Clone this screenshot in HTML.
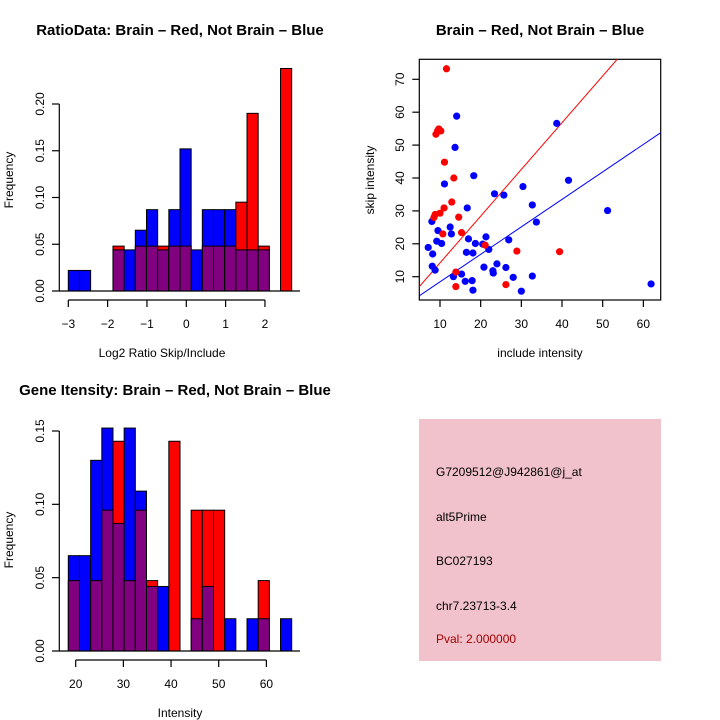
<!DOCTYPE html>
<html><head><meta charset="utf-8"><style>
body{margin:0;background:#fff;}
svg{display:block;font-family:"Liberation Sans",sans-serif;}
</style></head><body>
<svg id="c" width="720" height="720" xmlns="http://www.w3.org/2000/svg">
<text x="180" y="35" font-size="15" font-weight="bold" text-anchor="middle">RatioData: Brain – Red, Not Brain – Blue</text>
<text x="540" y="35" font-size="15" font-weight="bold" text-anchor="middle">Brain – Red, Not Brain – Blue</text>
<text x="175" y="395" font-size="15" font-weight="bold" text-anchor="middle">Gene Itensity: Brain – Red, Not Brain – Blue</text>
<text x="162" y="357" font-size="12" text-anchor="middle">Log2 Ratio Skip/Include</text>
<text transform="translate(13,180) rotate(-90)" font-size="12" text-anchor="middle">Frequency</text>
<text x="540" y="357" font-size="12" text-anchor="middle">include intensity</text>
<text transform="translate(374,180) rotate(-90)" font-size="12" text-anchor="middle">skip intensity</text>
<text x="180" y="717" font-size="12" text-anchor="middle">Intensity</text>
<text transform="translate(13,540) rotate(-90)" font-size="12" text-anchor="middle">Frequency</text>
<g>
<rect x="419" y="419" width="242" height="242" fill="#f1c2cc"/>
<text x="436" y="476" font-size="12">G7209512@J942861@j_at</text>
<text x="436" y="521" font-size="12">alt5Prime</text>
<text x="436" y="565" font-size="12">BC027193</text>
<text x="436" y="610" font-size="12">chr7.23713-3.4</text>
<text x="436" y="643" font-size="12" fill="#a00000">Pval: 2.000000</text>
</g>
</svg>
<script>
// Ratio histogram data (20 bins)
const ratioBinStart = -3.0;
const ratioBinWidth = 0.284;
const ratioBlue = [0.022,0.022,0,0,0.044,0.044,0.065,0.087,0.044,0.087,0.152,0.044,0.087,0.087,0.087,0.044,0.044,0.044,0,0];
const ratioRed  = [0,0,0,0,0.048,0,0.048,0.048,0.048,0.048,0.048,0,0.048,0.048,0.048,0.095,0.19,0.048,0,0.238];
const ratioXTicks = [-3,-2,-1,0,1,2];
const ratioYTicks = [0,0.05,0.10,0.15,0.20];
const ratioYLabels = ["0.00","0.05","0.10","0.15","0.20"];
// Intensity histogram data (20 bins)
const intBinStart = 18.45;
const intBinWidth = 2.343;
const intBlue = [0.065,0.065,0.13,0.152,0.087,0.152,0.109,0.044,0.044,0,0,0.022,0.044,0,0.022,0,0.022,0.022,0,0.022];
const intRed  = [0.048,0,0.048,0.096,0.143,0.048,0.096,0.048,0,0.143,0,0.096,0.096,0.096,0,0,0,0.048,0,0];
const intXTicks = [20,30,40,50,60];
const intYTicks = [0,0.05,0.10,0.15];
const intYLabels = ["0.00","0.05","0.10","0.15"];
// Scatter data
const redX = [11.6,9.0,9.4,9.7,10.2,11.1,13.4,12.9,11.0,10.0,8.8,8.5,14.6,15.3,10.7,21.1,28.9,39.4,13.9,13.9,26.2];
const redY = [73.2,53.3,54.3,54.9,54.3,44.8,40.0,32.7,30.9,29.3,28.9,28.0,28.1,23.4,23.0,19.6,17.8,17.6,11.4,7.0,7.6];
const blueX = [14.1,38.7,13.7,18.3,41.6,11.1,23.4,25.7,30.4,32.7,16.7,51.2,8.0,33.7,12.5,9.5,12.8,21.3,17.0,26.9,9.2,10.4,18.7,20.5,7.1,22.0,16.5,18.1,8.2,24.0,20.8,26.2,8.1,8.8,23.0,23.1,15.3,13.3,28.0,32.7,16.2,17.9,18.1,30.0,61.9];
const blueY = [58.8,56.6,49.3,40.7,39.3,38.2,35.2,34.8,37.4,31.8,30.9,30.1,26.8,26.6,25.1,24.0,23.0,22.1,21.5,21.2,20.8,20.1,20.1,19.9,18.9,18.3,17.4,17.2,16.9,13.9,12.9,12.8,13.2,12.0,11.8,11.1,10.8,10.0,9.8,10.2,8.6,8.8,5.9,5.6,7.8];
const redFit = [0, 1.42];   // intercept, slope
const blueFit = [0.1, 0.835];
const scXTicks = [10,20,30,40,50,60];
const scYTicks = [10,20,30,40,50,60,70];

const svg = document.getElementById('c');
const NS = 'http://www.w3.org/2000/svg';
function mk(tag, attrs, parent){const e=document.createElementNS(NS,tag);for(const k in attrs)e.setAttribute(k,attrs[k]);(parent||svg).appendChild(e);return e;}

function hist(cfg){
  const g = mk('g',{});
  
  
  const xs = v => cfg.x0 + (v - cfg.xv0) * cfg.kx;
  const ys = v => cfg.y0 - v * cfg.ky;
  for (let i=0;i<cfg.blue.length;i++){
    const b=cfg.blue[i], r=cfg.red[i];
    const xl = xs(cfg.start + i*cfg.width), xr = xs(cfg.start + (i+1)*cfg.width);
    const mx=Math.max(b,r), mn=Math.min(b,r);
    if (mx<=0) continue;
    const top = mk('rect',{x:xl,y:ys(mx),width:xr-xl,height:ys(0)-ys(mx),fill:b>=r?'#0000ff':'#ff0000',stroke:'#000','stroke-width':1},g);
    
    
    if (mn>0){
      const p = mk('rect',{x:xl,y:ys(mn),width:xr-xl,height:ys(0)-ys(mn),fill:'#800080',stroke:'#000','stroke-width':1},g);
      
      
    }
  }
  const bl = mk('line',{x1:cfg.axL,x2:cfg.axR,y1:ys(0),y2:ys(0),stroke:'#000','stroke-width':1.2},g);
  
  
  const xa = mk('g',{},g);
  
  
  const t0=cfg.xticks[0], t1=cfg.xticks[cfg.xticks.length-1];
  mk('line',{x1:xs(t0),x2:xs(t1),y1:cfg.xAxisY,y2:cfg.xAxisY,stroke:'#000','stroke-width':1.2},xa);
  cfg.xticks.forEach(t=>{
    mk('line',{x1:xs(t),x2:xs(t),y1:cfg.xAxisY,y2:cfg.xAxisY+7,stroke:'#000','stroke-width':1.2},xa);
    const tx = mk('text',{x:xs(t),y:cfg.xAxisY+28,'font-size':12,'text-anchor':'middle'},xa);
    tx.textContent = t<0 ? '\u2212'+(-t) : String(t);
    
    
  });
  const ya = mk('g',{},g);
  
  
  const yt = cfg.yticks;
  mk('line',{x1:59.3,x2:59.3,y1:ys(yt[0]),y2:ys(yt[yt.length-1]),stroke:'#000','stroke-width':1.2},ya);
  yt.forEach((t,i)=>{
    mk('line',{x1:52,x2:59.3,y1:ys(t),y2:ys(t),stroke:'#000','stroke-width':1.2},ya);
    const tx = mk('text',{transform:`translate(44,${ys(t)}) rotate(-90)`,'font-size':12,'text-anchor':'middle'},ya);
    tx.textContent = cfg.ylabels[i];
    
    
  });
}

hist({name:'ratio-histogram',blue:ratioBlue,red:ratioRed,start:ratioBinStart,width:ratioBinWidth,
  x0:68.3,xv0:-3,kx:39.33,y0:291,ky:935,xticks:ratioXTicks,yticks:ratioYTicks,ylabels:ratioYLabels,
  xAxisY:300,axL:59,axR:300});
hist({name:'intensity-histogram',blue:intBlue,red:intRed,start:intBinStart,width:intBinWidth,
  x0:75.7,xv0:20,kx:4.767,y0:651,ky:1466.7,xticks:intXTicks,yticks:intYTicks,ylabels:intYLabels,
  xAxisY:660,axL:59,axR:300});

(function(){
  const g = mk('g',{});
  
  
  const L=419.3,R=660.7,T=59.3,B=300;
  const xs = v => 440 + (v-10)*4.067;
  const ys = v => 276.7 - (v-10)*3.29;
  const box = mk('rect',{x:L,y:T,width:R-L,height:B-T,fill:'none',stroke:'#000','stroke-width':1.2},g);
  
  
  const clip = mk('clipPath',{id:'scClip'},g);
  mk('rect',{x:L,y:T,width:R-L,height:B-T},clip);
  const xv0 = 10+(L-440)/4.067, xv1 = 10+(R-440)/4.067;
  [[redFit,'#ff0000','red-fit-line'],[blueFit,'#0000ff','blue-fit-line']].forEach(([f,c,n])=>{
    const l = mk('line',{x1:xs(xv0),y1:ys(f[0]+f[1]*xv0),x2:xs(xv1),y2:ys(f[0]+f[1]*xv1),stroke:c,'stroke-width':1,'clip-path':'url(#scClip)'},g);
    
    
  });
  blueX.forEach((x,i)=>{
    const p = mk('circle',{cx:xs(x),cy:ys(blueY[i]),r:3.6,fill:'#0000ff'},g);
    
    
  });
  redX.forEach((x,i)=>{
    const p = mk('circle',{cx:xs(x),cy:ys(redY[i]),r:3.6,fill:'#ff0000'},g);
    
    
  });
  scXTicks.forEach(t=>{
    mk('line',{x1:xs(t),x2:xs(t),y1:B,y2:B+7,stroke:'#000','stroke-width':1.2},g);
    const tx = mk('text',{x:xs(t),y:B+28,'font-size':12,'text-anchor':'middle'},g);
    tx.textContent = String(t);
    
    
  });
  scYTicks.forEach(t=>{
    mk('line',{x1:L-7,x2:L,y1:ys(t),y2:ys(t),stroke:'#000','stroke-width':1.2},g);
    const tx = mk('text',{transform:`translate(404,${ys(t)}) rotate(-90)`,'font-size':12,'text-anchor':'middle'},g);
    tx.textContent = String(t);
    
    
  });
})();
</script>
</body></html>
